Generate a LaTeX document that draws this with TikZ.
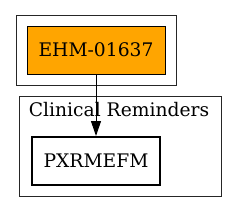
\documentclass[tikz,border=0pt]{standalone}
\usepackage{fontspec}
\setmainfont{DejaVu Serif}
\usetikzlibrary{arrows.meta}
\definecolor{gvorange}{HTML}{FFA500}
\tikzset{
  cluster/.style={draw=black!85, line width=1pt},
  gvfont/.style={font=\fontsize{18.7}{22}\selectfont},
  nodebox/.style={draw=black, line width=1pt, inner sep=0pt, gvfont},
  edge/.style={draw=black, line width=1pt, -{Triangle[length=15pt,width=10pt]}}
}
\begin{document}
\begin{tikzpicture}[x=1pt,y=-1pt]
\useasboundingbox (0,0) rectangle (237,212);
% clusters
\draw[cluster] (16,15) rectangle (176,85);
\draw[cluster] (19,96) rectangle (221,196);
\node[gvfont, anchor=base, inner sep=0pt] (cl) at (119,116.7) {Clinical Reminders};
% nodes
\node[nodebox, fill=gvorange, minimum width=138pt, minimum height=48pt] (ehm) at (96,50) {EHM-01637};
\node[nodebox, line width=2pt, fill=white, minimum width=128pt, minimum height=48pt] (px) at (96,161) {PXRMEFM};
% edge
\draw[edge] (ehm.south) -- (px.north);
\end{tikzpicture}
\end{document}
